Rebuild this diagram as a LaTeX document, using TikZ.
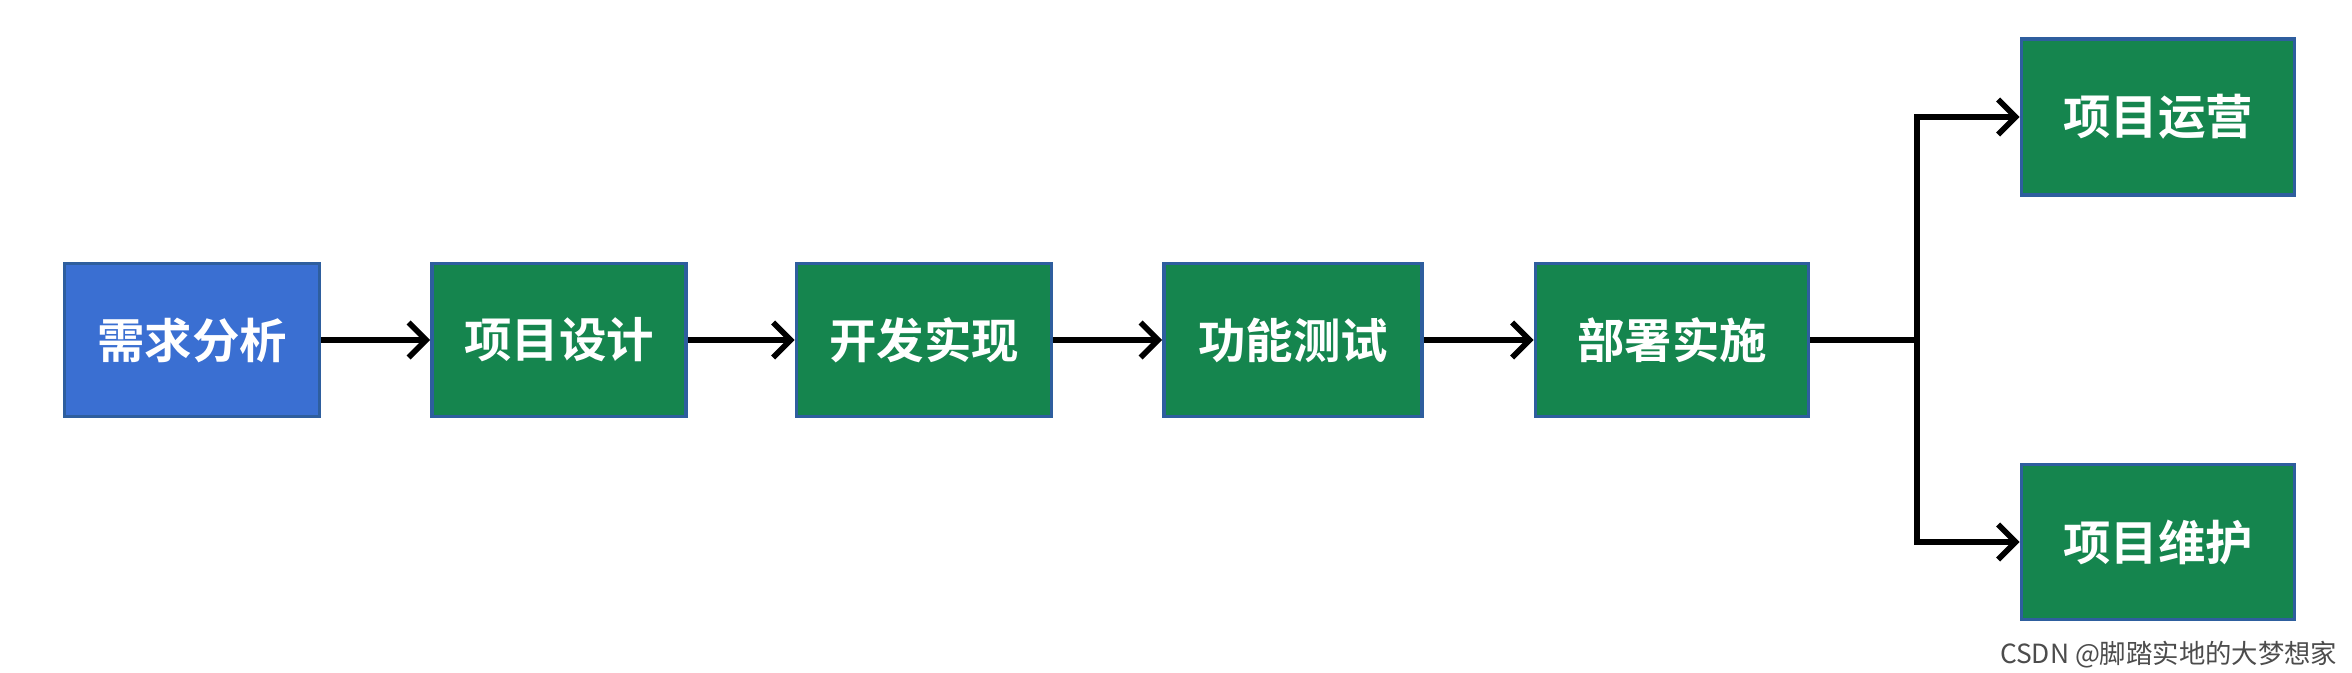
\documentclass[tikz,border=0pt]{standalone}
\usepackage{fontspec}
\newfontfamily\cjk{Noto Sans CJK SC}[BoldFont={Noto Sans CJK SC Bold}]
\usetikzlibrary{arrows.meta}
\definecolor{bl}{HTML}{3A6FD2}
\definecolor{gr}{HTML}{15854E}
\definecolor{bd}{HTML}{2E5E9E}
\begin{document}
\begin{tikzpicture}[x=0.01cm,y=-0.01cm,
  box/.style={draw=bd,line width=1pt,fill=gr,text=white,font=\cjk\bfseries\fontsize{13.5pt}{15pt}\selectfont,inner sep=0pt},
  arr/.style={line width=1.6pt,-{Straight Barb[length=5pt,width=10pt,line width=1.6pt]}}]
\useasboundingbox (0,0) rectangle (2352,673);
\node[box,fill=bl,minimum width=255\pgflinewidth,minimum width=2.55cm,minimum height=1.53cm] (a) at (192,340) {需求分析};
\node[box,minimum width=2.54cm,minimum height=1.53cm] (b) at (559,340) {项目设计};
\node[box,minimum width=2.55cm,minimum height=1.53cm] (c) at (924,340) {开发实现};
\node[box,minimum width=2.58cm,minimum height=1.53cm] (d) at (1293,340) {功能测试};
\node[box,minimum width=2.73cm,minimum height=1.53cm] (e) at (1672,340) {部署实施};
\node[box,minimum width=2.73cm,minimum height=1.56cm] (f) at (2158,117) {项目运营};
\node[box,minimum width=2.73cm,minimum height=1.55cm] (g) at (2158,542) {项目维护};
\coordinate (j) at (1917,340);
\draw[arr] (a) -- (b);
\draw[arr] (b) -- (c);
\draw[arr] (c) -- (d);
\draw[arr] (d) -- (e);
\draw[line width=1.6pt] (e) -- (j);
\draw[arr] (j) |- (f);
\draw[arr] (j) |- (g);
\node[anchor=east,font=\cjk\fontsize{7.5pt}{9pt}\selectfont,text=black!70,inner sep=0pt] (w) at (2338,655) {CSDN @脚踏实地的大梦想家};
\end{tikzpicture}
\end{document}
